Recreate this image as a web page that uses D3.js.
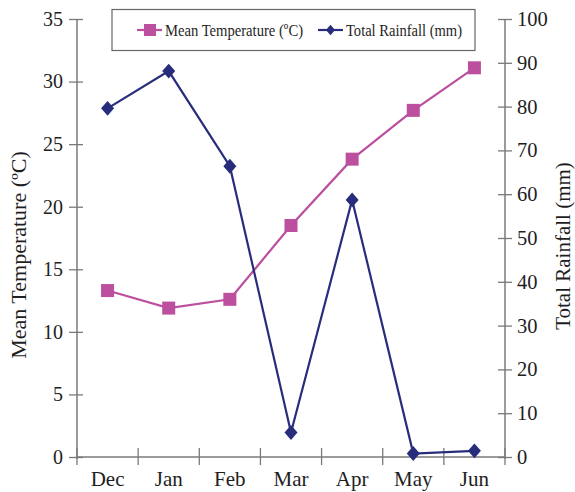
<!DOCTYPE html>
<html>
<head>
<meta charset="utf-8">
<script src="https://cdn.jsdelivr.net/npm/d3@7"></script>
<style>
  html, body { margin: 0; padding: 0; background: #fff; }
  svg { display: block; font-family: "Liberation Serif", "Times New Roman", serif; }
</style>
</head>
<body>
<svg id="chart" width="575" height="492"></svg>
<script>
// Monthly climate data
const months = ["Dec", "Jan", "Feb", "Mar", "Apr", "May", "Jun"];
const meanTemp = [13.3, 11.9, 12.6, 18.5, 23.8, 27.7, 31.1];
const rainfall = [79.6, 88.1, 66.4, 5.6, 58.7, 0.8, 1.4];
const tempTicks = [0, 5, 10, 15, 20, 25, 30, 35];
const rainTicks = [0, 10, 20, 30, 40, 50, 60, 70, 80, 90, 100];

const tempColor = "#BC4F9E";
const rainColor = "#282D7B";
const axisColor = "#7a7a7a";
const textColor = "#1e1e1e";

const svg = d3.select("#chart");
const plotLeft = 77, plotRight = 505, plotTop = 19, plotBottom = 457;

const x = d3.scaleBand().domain(months).range([plotLeft, plotRight]).padding(0);
const yT = d3.scaleLinear().domain([0, 35]).range([plotBottom, plotTop]);
const yR = d3.scaleLinear().domain([0, 100]).range([plotBottom, plotTop]);
const cx = d => x(d) + x.bandwidth() / 2;

// Slightly tall diamond marker; size is the square of its width
const wideDiamond = {
  draw(context, size) {
    const w = Math.sqrt(size) / 2, h = w * 1.15;
    context.moveTo(0, -h);
    context.lineTo(w, 0);
    context.lineTo(0, h);
    context.lineTo(-w, 0);
    context.closePath();
  }
};

// Left axis
const gL = svg.append("g").attr("transform", `translate(${plotLeft},0)`)
  .call(d3.axisLeft(yT).tickValues(tempTicks).tickSize(0).tickPadding(14));
gL.select(".domain").remove();
gL.selectAll(".tick text").attr("font-size", 20).attr("fill", textColor)
  .attr("font-family", "Liberation Serif");
gL.selectAll(".tick").append("line").attr("x1", -8).attr("x2", 6)
  .attr("stroke", axisColor).attr("stroke-width", 1.3);

// Right axis
const gR = svg.append("g").attr("transform", `translate(${plotRight},0)`)
  .call(d3.axisRight(yR).tickValues(rainTicks).tickSize(0).tickPadding(12));
gR.select(".domain").remove();
gR.selectAll(".tick text").attr("font-size", 20.5).attr("fill", textColor)
  .attr("font-family", "Liberation Serif");
gR.selectAll(".tick").append("line").attr("x1", -7).attr("x2", 7)
  .attr("stroke", axisColor).attr("stroke-width", 1.3);

// Bottom axis (labels centred in bands, ticks on band edges)
const gB = svg.append("g").attr("transform", `translate(0,${plotBottom})`)
  .call(d3.axisBottom(x).tickSize(0).tickPadding(14));
gB.select(".domain").remove();
gB.selectAll(".tick text").attr("font-size", 21).attr("fill", textColor)
  .attr("font-family", "Liberation Serif").attr("dy", "0.71em");
const edges = months.map(m => x(m)).concat([plotRight]);
svg.append("g").selectAll("line").data(edges).join("line")
  .attr("x1", d => d).attr("x2", d => d)
  .attr("y1", plotBottom - 9).attr("y2", plotBottom + 8)
  .attr("stroke", axisColor).attr("stroke-width", 1.3);

// Axis lines
svg.append("line").attr("x1", plotLeft).attr("x2", plotLeft).attr("y1", plotTop).attr("y2", plotBottom + 2)
  .attr("stroke", axisColor).attr("stroke-width", 1.5);
svg.append("line").attr("x1", plotRight).attr("x2", plotRight).attr("y1", plotTop).attr("y2", plotBottom + 2)
  .attr("stroke", axisColor).attr("stroke-width", 1.5);
svg.append("line").attr("x1", plotLeft).attr("x2", plotRight).attr("y1", plotBottom).attr("y2", plotBottom)
  .attr("stroke", axisColor).attr("stroke-width", 1.5);

// Axis titles
svg.append("text").attr("transform", "translate(26,255) rotate(-90)")
  .attr("text-anchor", "middle").attr("font-size", 22).attr("fill", textColor)
  .text("Mean Temperature (ºC)");
svg.append("text").attr("transform", "translate(570,246) rotate(-90)")
  .attr("text-anchor", "middle").attr("font-size", 21).attr("fill", textColor)
  .text("Total Rainfall (mm)");

// Temperature series
svg.append("path").datum(meanTemp)
  .attr("fill", "none").attr("stroke", tempColor).attr("stroke-width", 2.2)
  .attr("d", d3.line().x((d, i) => cx(months[i])).y(d => yT(d)));
svg.append("g").selectAll("rect").data(meanTemp).join("rect")
  .attr("x", (d, i) => cx(months[i]) - 6.5).attr("y", d => yT(d) - 6.5)
  .attr("width", 13).attr("height", 13).attr("fill", tempColor);

// Rainfall series
const diamond = d3.symbol().type(wideDiamond).size(169);
svg.append("path").datum(rainfall)
  .attr("fill", "none").attr("stroke", rainColor).attr("stroke-width", 2.2)
  .attr("d", d3.line().x((d, i) => cx(months[i])).y(d => yR(d)));
svg.append("g").selectAll("path").data(rainfall).join("path")
  .attr("transform", (d, i) => `translate(${cx(months[i])},${yR(d)})`)
  .attr("d", diamond).attr("fill", rainColor);

// Legend
const lg = svg.append("g");
lg.append("rect").attr("x", 112).attr("y", 9.5).attr("width", 363).attr("height", 41)
  .attr("fill", "#fff").attr("stroke", "#666").attr("stroke-width", 1.2);
lg.append("line").attr("x1", 137).attr("x2", 162).attr("y1", 30).attr("y2", 30)
  .attr("stroke", tempColor).attr("stroke-width", 2.2);
lg.append("rect").attr("x", 144).attr("y", 24).attr("width", 12).attr("height", 12).attr("fill", tempColor);
lg.append("text").attr("x", 165).attr("y", 36).attr("font-size", 17).attr("fill", textColor)
  .attr("textLength", 138).attr("lengthAdjust", "spacingAndGlyphs")
  .text("Mean Temperature (ºC)");
lg.append("line").attr("x1", 318).attr("x2", 343).attr("y1", 30).attr("y2", 30)
  .attr("stroke", rainColor).attr("stroke-width", 2.2);
lg.append("path").attr("transform", "translate(330.5,30)")
  .attr("d", d3.symbol().type(wideDiamond).size(81)).attr("fill", rainColor);
lg.append("text").attr("x", 346).attr("y", 36).attr("font-size", 17).attr("fill", textColor)
  .attr("textLength", 116).attr("lengthAdjust", "spacingAndGlyphs")
  .text("Total Rainfall (mm)");
</script>
</body>
</html>
